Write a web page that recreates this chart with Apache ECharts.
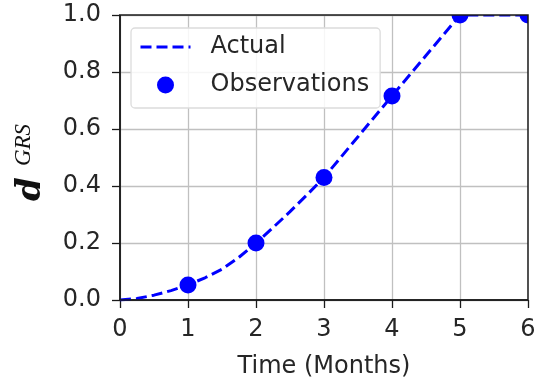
<!DOCTYPE html>
<html>
<head>
<meta charset="utf-8">
<script src="https://cdn.jsdelivr.net/npm/echarts@6/dist/echarts.min.js"></script>
<style>
  html, body { margin: 0; padding: 0; background: #fff; }
  #chart { width: 540px; height: 381px; }
</style>
</head>
<body>
<div id="chart"></div>
<script>
// Modelled progression curve (finer sampling where it bends)
const actualMonths = [0, 0.25, 0.5, 0.75, 1, 1.25, 1.5, 1.75, 2, 2.25, 2.5, 2.75, 3, 3.5, 4, 4.5, 5, 5.5, 6];
const actualValues = [0, 0.005, 0.017, 0.033, 0.053, 0.078, 0.108, 0.15, 0.2, 0.254, 0.31, 0.369, 0.43, 0.573, 0.716, 0.858, 1.0, 1.0, 1.0];

// Monthly observations
const obsMonths = [1, 2, 3, 4, 5, 6];
const obsValues = [0.053, 0.2, 0.43, 0.716, 1.0, 1.0];

const xTicks = [0, 1, 2, 3, 4, 5, 6];
const yTicks = [0, 0.2, 0.4, 0.6, 0.8, 1.0];

const pair = (xs, ys) => xs.map((x, i) => [x, ys[i]]);

// plot-area layout
const G = { left: 120, right: 12, top: 15, bottom: 81 };
const W = 540, H = 381;

const ink = '#1a1a1a';
const textCol = '#262626';
const tickFont = { fontFamily: 'DejaVu Sans', fontSize: 24, color: textCol };
const gridLine = { show: true, lineStyle: { color: '#c0c0c0', width: 1.3 } };
const spine = { show: true, lineStyle: { color: ink, width: 1.5 } };
const tick = { show: true, length: 8, lineStyle: { color: ink, width: 1.3 } };

const chart = echarts.init(document.getElementById('chart'), null, { renderer: 'canvas' });

chart.setOption({
  animation: false,
  backgroundColor: '#ffffff',
  grid: Object.assign({ show: false, containLabel: false, outerBoundsMode: 'none' }, G),
  xAxis: {
    type: 'value',
    min: xTicks[0], max: xTicks[xTicks.length - 1], interval: 1,
    name: 'Time (Months)',
    nameLocation: 'middle',
    nameGap: 55,
    nameTextStyle: { fontFamily: 'DejaVu Sans', fontSize: 24, color: textCol },
    axisLine: spine,
    axisTick: tick,
    axisLabel: Object.assign({ margin: 18 }, tickFont),
    splitLine: gridLine
  },
  yAxis: {
    type: 'value',
    min: yTicks[0], max: yTicks[yTicks.length - 1], interval: 0.2,
    axisLine: spine,
    axisTick: tick,
    axisLabel: Object.assign({ margin: 19, formatter: v => v.toFixed(1) }, tickFont),
    splitLine: gridLine
  },
  legend: {
    orient: 'vertical',
    left: 131, top: 28,
    padding: [7, 11, 11, 8],
    itemWidth: 50, itemHeight: 17, itemGap: 14,
    backgroundColor: 'rgba(255,255,255,0.85)',
    borderColor: '#dcdcdc', borderWidth: 1.3, borderRadius: 4,
    lineStyle: { width: 3 },
    textStyle: {
      fontFamily: 'DejaVu Sans', fontSize: 24, color: textCol,
      lineHeight: 24, padding: [0, 0, 0, 15]
    },
    data: [
      { name: 'Actual', itemStyle: { opacity: 0 } },
      'Observations'
    ]
  },
  graphic: [
    // markers sitting on the frame are cut at its edge
    {
      type: 'rect', z: 50, silent: true,
      shape: { x: G.left, y: 0, width: W - G.left, height: G.top },
      style: { fill: '#ffffff' }
    },
    {
      type: 'rect', z: 50, silent: true,
      shape: { x: W - G.right, y: 0, width: G.right, height: H - G.bottom },
      style: { fill: '#ffffff' }
    },
    // axes frame (top and right edges drawn over the cut markers)
    {
      type: 'rect', z: 60, silent: true,
      shape: { x: G.left, y: G.top, width: W - G.left - G.right, height: H - G.top - G.bottom },
      style: { fill: null, stroke: ink, lineWidth: 1.5 }
    },
    // y-axis title: d with superscript GRS
    {
      type: 'text', x: 31, y: 189, rotation: Math.PI / 2, z: 70,
      style: {
        text: 'd', fill: '#111',
        font: 'italic bold 34px "DejaVu Serif"',
        align: 'center', verticalAlign: 'middle'
      }
    },
    {
      type: 'text', x: 24, y: 145, rotation: Math.PI / 2, z: 70,
      style: {
        text: 'GRS', fill: '#111',
        font: 'italic 23px "Liberation Serif"',
        align: 'center', verticalAlign: 'middle'
      }
    }
  ],
  series: [
    {
      name: 'Actual',
      type: 'line',
      data: pair(actualMonths, actualValues),
      smooth: false,
      showSymbol: false,
      symbol: 'none',
      clip: true,
      lineStyle: { color: '#0000ff', width: 3, type: [11, 5] },
      itemStyle: { color: '#0000ff' },
      z: 3
    },
    {
      name: 'Observations',
      type: 'scatter',
      data: pair(obsMonths, obsValues),
      symbol: 'circle',
      symbolSize: 17,
      clip: false,
      itemStyle: { color: '#0000ff', opacity: 1 },
      z: 4
    }
  ]
});
</script>
</body>
</html>
